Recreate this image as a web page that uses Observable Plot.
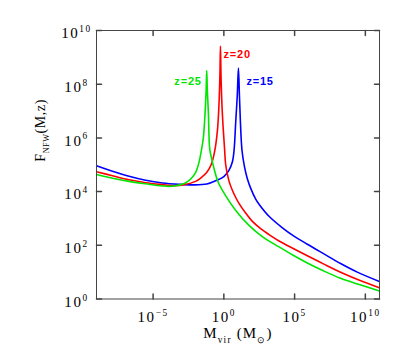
<!DOCTYPE html>
<html><head><meta charset="utf-8">
<script src="https://cdn.jsdelivr.net/npm/d3@7"></script>
<script src="https://cdn.jsdelivr.net/npm/@observablehq/plot@0.6"></script>
<style>body{margin:0;background:#fff;}</style>
</head><body><div id="chart"></div>
<script>
// log10 of M_vir (M_sun) and log10 of F_NFW(M,z)
const logM_z25 = [-9, -7.87, -6.7, -5.52, -4.34, -3.64, -2.8, -2.34, -1.99, -1.75, -1.6, -1.45, -1.33, -1.25, -1.21, -1.17, -1.09, -1.0, -0.85, -0.69, -0.4, 0.1, 0.84, 1.78, 2.72, 3.9, 4.9, 5.9, 7.07, 8.25, 9.5, 11];
const logF_z25 = [4.64, 4.5, 4.38, 4.29, 4.21, 4.2, 4.3, 4.47, 4.72, 5.1, 5.5, 6.0, 6.9, 7.8, 8.51, 7.8, 6.9, 5.6, 5.2, 4.85, 4.35, 3.87, 3.3, 2.74, 2.32, 1.94, 1.63, 1.34, 1.04, 0.77, 0.55, 0.3];

const logM_z20 = [-9, -7.87, -6.7, -5.52, -4.34, -3.5, -2.81, -2.0, -1.6, -1.2, -0.9, -0.65, -0.45, -0.34, -0.28, -0.24, -0.2, -0.14, -0.04, 0.05, 0.13, 0.36, 0.6, 0.84, 1.07, 1.54, 2.0, 2.6, 3.3, 3.9, 4.9, 5.9, 7.07, 8.25, 9.5, 11];
const logF_z20 = [4.74, 4.59, 4.44, 4.33, 4.26, 4.22, 4.26, 4.38, 4.52, 4.72, 5.0, 5.5, 6.3, 7.3, 8.3, 9.42, 8.3, 7.3, 6.3, 5.6, 5.0, 4.4, 4.05, 3.78, 3.56, 3.2, 2.9, 2.62, 2.36, 2.16, 1.88, 1.61, 1.3, 1.0, 0.72, 0.42];

const logM_z15 = [-9, -7.87, -6.7, -5.52, -4.34, -3.17, -2.2, -1.2, -0.5, 0.0, 0.36, 0.6, 0.72, 0.84, 0.95, 1.03, 1.1, 1.17, 1.28, 1.45, 1.65, 1.9, 2.25, 2.5, 3.19, 4.14, 4.9, 5.9, 7.07, 8.25, 9.43, 11];
const logF_z15 = [4.96, 4.76, 4.57, 4.42, 4.32, 4.27, 4.25, 4.28, 4.42, 4.56, 4.79, 5.1, 5.53, 6.6, 7.6, 8.6, 7.6, 6.6, 5.55, 4.95, 4.5, 4.12, 3.72, 3.52, 3.08, 2.65, 2.36, 2.04, 1.68, 1.32, 1.0, 0.65];

const seriesNames = ["z=25", "z=20", "z=15"];
const seriesColors = ["#00e600", "#ff0000", "#0000ff"];
const xTickExp = [-5, 0, 5, 10];
const yTickExp = [0, 2, 4, 6, 8, 10];
const xTitle = "M_{vir} (M_{\u2299})";
const yTitle = "F_{NFW}(M,z)";

const toRows = (lx, ly) => lx.map((v, i) => ({M: 10 ** v, F: 10 ** ly[i]}));
const series = [toRows(logM_z25, logF_z25), toRows(logM_z20, logF_z20), toRows(logM_z15, logF_z15)];
const peaks = series.map(s => s.reduce((a, b) => (b.F > a.F ? b : a)));

const minus = s => String(s).replace("-", "\u2212");
const tickShape = {draw(ctx, l) { ctx.moveTo(0, 0); ctx.lineTo(0, -l); }};
const frameColor = "#444";
const xMin = 1e-9, xMax = 1e11, yMin = 1, yMax = 1e10;

const labelOffsets = [{dx: -5, dy: 11, anchor: "end"}, {dx: 3, dy: 8, anchor: "start"}, {dx: 8, dy: 13, anchor: "start"}];

const plot = Plot.plot({
  width: 407, height: 360,
  marginLeft: 96, marginRight: 28, marginTop: 30, marginBottom: 61.5,
  x: {type: "log", domain: [xMin, xMax], axis: null},
  y: {type: "log", domain: [yMin, yMax], axis: null},
  style: {fontFamily: "'Liberation Serif', serif", background: "white", overflow: "visible"},
  marks: [
    ...[2, 1, 0].map(i => Plot.line(series[i], {x: "M", y: "F", stroke: seriesColors[i], strokeWidth: 1.6, curve: "catmull-rom", clip: true})),
    Plot.frame({stroke: frameColor, strokeWidth: 1}),
    Plot.vector(xTickExp, {x: d => 10 ** d, y: yMin, length: 5, rotate: 0, anchor: "start", shape: tickShape, stroke: frameColor}),
    Plot.vector(xTickExp, {x: d => 10 ** d, y: yMax, length: 5, rotate: 180, anchor: "start", shape: tickShape, stroke: frameColor}),
    Plot.vector(yTickExp, {x: xMin, y: d => 10 ** d, length: 5, rotate: 90, anchor: "start", shape: tickShape, stroke: frameColor}),
    Plot.vector(yTickExp, {x: xMax, y: d => 10 ** d, length: 5, rotate: -90, anchor: "start", shape: tickShape, stroke: frameColor}),
    Plot.text(xTickExp, {x: d => 10 ** d, y: yMin, text: d => `10^{${minus(d)}}`, dy: 18, fontSize: 15, fill: "black"}),
    Plot.text(yTickExp, {x: xMin, y: d => 10 ** d, text: d => `10^{${minus(d)}}`, dx: -20, dy: 3, fontSize: 15, fill: "black"}),
    ...series.map((s, i) => Plot.text([peaks[i]], {x: "M", y: "F", text: () => seriesNames[i], dx: labelOffsets[i].dx, dy: labelOffsets[i].dy, textAnchor: labelOffsets[i].anchor, fill: seriesColors[i], fontSize: 11, fontWeight: "bold", fontFamily: "'Liberation Sans', sans-serif"})),
    Plot.text([xTitle], {frameAnchor: "bottom", text: d => d, dy: 39, fontSize: 15, fill: "black"}),
    Plot.text([yTitle], {frameAnchor: "left", text: d => d, dx: -56, dy: -3, rotate: -90, fontSize: 14, fill: "black"})
  ]
});

const SVGNS = "http://www.w3.org/2000/svg";
function rich(el, s, fs, scale) {
  while (el.firstChild) el.removeChild(el.firstChild);
  let off = 0;
  const re = /([\^_])\{([^}]*)\}/g;
  let last = 0, m;
  const add = (str, target, small) => {
    if (!str) return;
    const t = document.createElementNS(SVGNS, "tspan");
    const dy = target - off;
    if (dy) t.setAttribute("dy", dy);
    off = target;
    if (small) t.setAttribute("font-size", fs * scale);
    t.textContent = str;
    el.appendChild(t);
  };
  while ((m = re.exec(s))) {
    add(s.slice(last, m.index), 0, false);
    add(m[2], m[1] === "^" ? -0.42 * fs : 0.3 * fs, true);
    last = re.lastIndex;
  }
  add(s.slice(last), 0, false);
}
Array.from(plot.querySelectorAll("text")).forEach(t => {
  const s = t.textContent;
  if (/^z=/.test(s)) t.style.letterSpacing = "0.8px";
  if (!/[\^_]\{/.test(s)) return;
  if (s.startsWith("10")) { rich(t, s, 15, 0.62); t.style.letterSpacing = "1.6px"; }
  else if (s.startsWith("M")) { rich(t, s, 15, 0.62); t.style.letterSpacing = "1.2px"; }
  else { rich(t, s, 14, 0.58); t.style.letterSpacing = "0.6px"; }
});
document.getElementById("chart").appendChild(plot);
</script>
</body></html>
